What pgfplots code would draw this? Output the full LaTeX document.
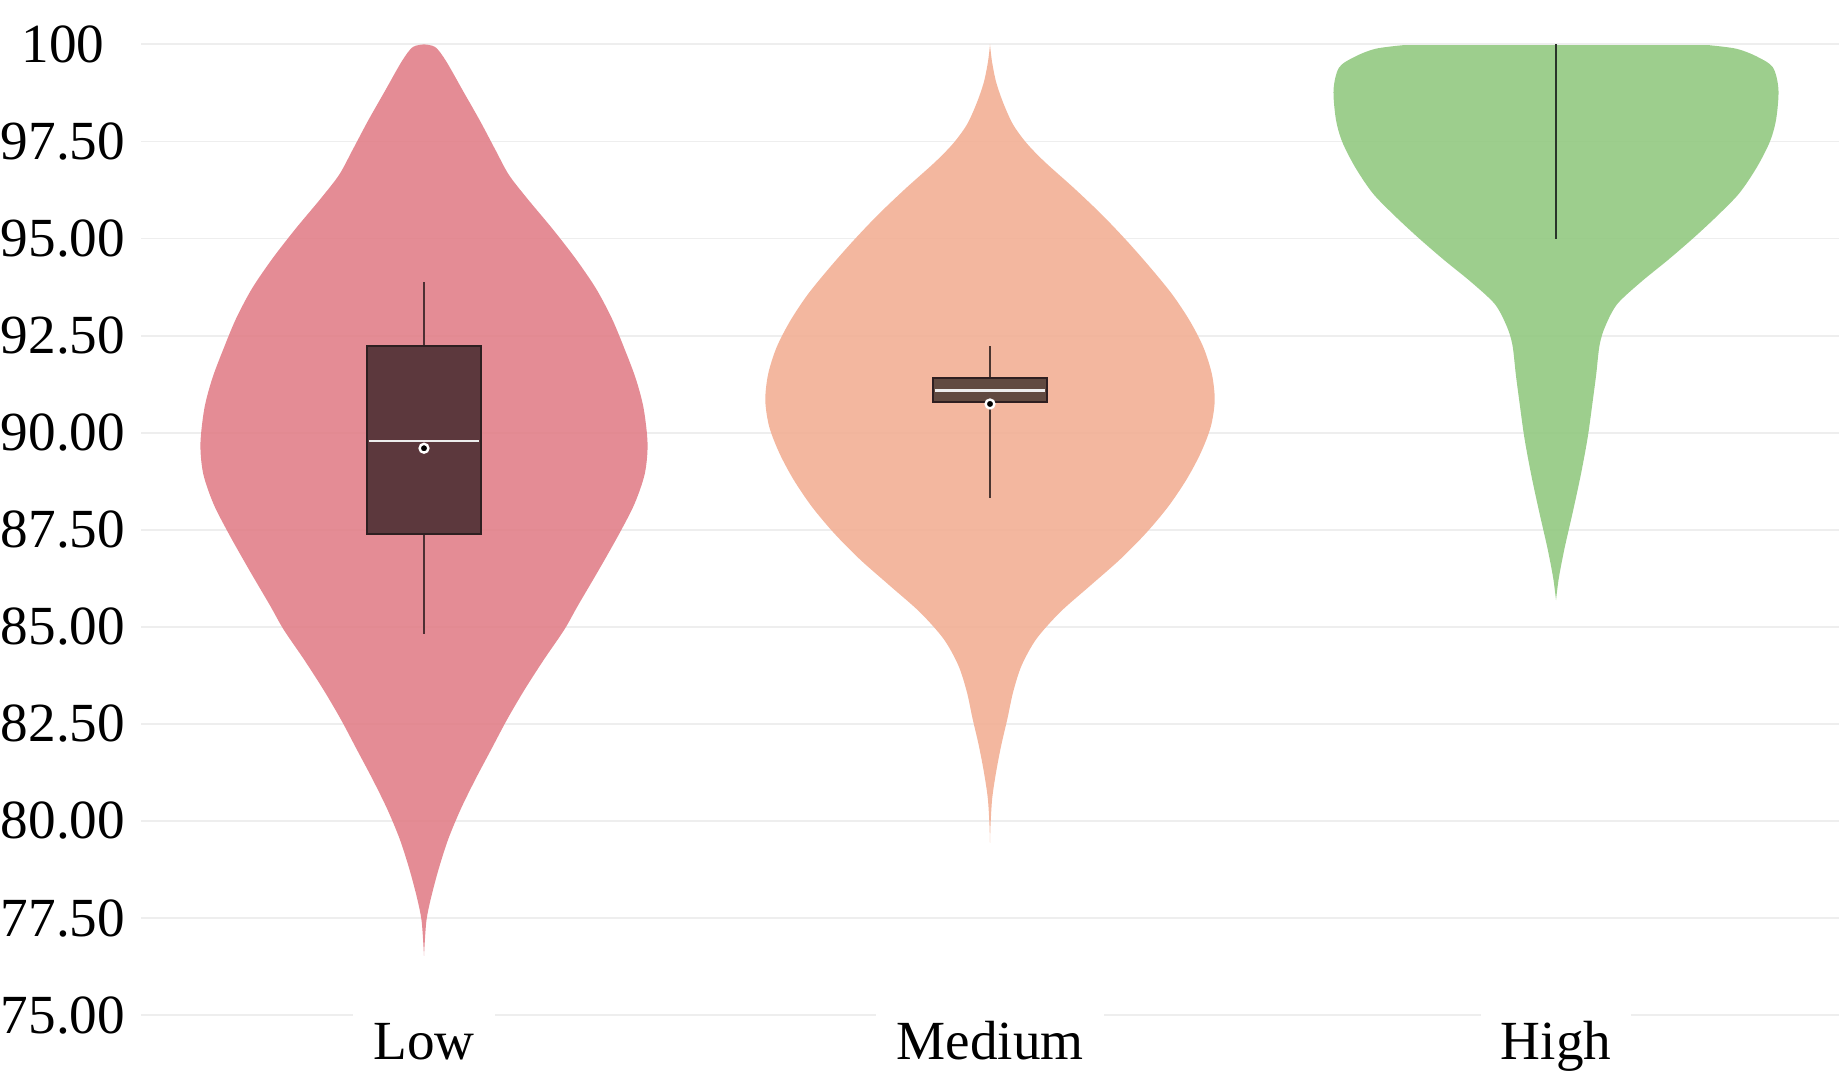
\documentclass[border=0pt]{standalone}
\usepackage{fontspec}
\setmainfont{Liberation Serif}
\usepackage{pgfplots}
\usepackage{pgfplotstable}
\usepgfplotslibrary{fillbetween}
\pgfplotsset{compat=1.18}

\definecolor{gridgray}{HTML}{EEEEEE}
\definecolor{lowfill}{HTML}{E18089}
\definecolor{midfill}{HTML}{F2AF95}
\definecolor{highfill}{HTML}{92C981}
\definecolor{lowbox}{HTML}{5C383D}
\definecolor{midbox}{HTML}{614A40}
\definecolor{boxedge}{HTML}{2E1F21}
\definecolor{lowwhisk}{HTML}{4D2F33}
\definecolor{midwhisk}{HTML}{4A3530}
\definecolor{highwhisk}{HTML}{2A352A}
\definecolor{medline}{HTML}{EDEDED}

% violin outlines: y value, half width (axis units)
\pgfplotstableread{
y w
100.00 0.000
99.93 0.020
99.57 0.039
98.80 0.069
98.03 0.099
97.26 0.127
96.64 0.150
96.02 0.183
95.25 0.227
94.48 0.268
93.71 0.304
92.94 0.332
92.17 0.354
91.40 0.374
90.63 0.388
89.71 0.395
88.94 0.390
88.17 0.372
87.40 0.345
86.47 0.309
85.55 0.272
84.93 0.248
84.16 0.212
83.39 0.178
82.62 0.147
81.85 0.119
81.08 0.091
80.31 0.065
79.54 0.043
78.77 0.026
78.00 0.012
77.40 0.004
76.53 0.000
}\lowviolin

\pgfplotstableread{
y w
100.00 0.000
99.56 0.0035
99.02 0.011
98.47 0.024
97.93 0.041
97.45 0.065
96.97 0.097
96.29 0.149
95.61 0.198
94.92 0.243
94.24 0.284
93.56 0.322
92.88 0.353
92.20 0.377
91.51 0.392
90.83 0.397
90.15 0.390
89.47 0.372
88.79 0.347
88.10 0.315
87.42 0.276
86.74 0.230
86.06 0.177
85.38 0.124
84.69 0.082
84.01 0.056
83.33 0.041
82.65 0.031
81.96 0.020
81.28 0.011
80.60 0.004
79.92 0.001
79.44 0.000
}\midviolin

\pgfplotstableread{
y w
99.98 0.270
99.89 0.318
99.70 0.353
99.41 0.383
98.84 0.393
98.08 0.389
97.50 0.378
96.84 0.355
96.17 0.324
95.60 0.286
95.03 0.244
94.45 0.198
93.88 0.150
93.31 0.108
92.74 0.087
92.26 0.077
91.50 0.071
90.83 0.065
89.88 0.056
88.93 0.044
87.98 0.030
87.02 0.015
86.26 0.005
85.69 0.000
}\highviolin

\begin{document}
\begin{tikzpicture}
\begin{axis}[name=ax, set layers, scale only axis, width=424.5pt, height=242.7pt,
  xmin=-0.5, xmax=2.5, ymin=75, ymax=100,
  xtick={0,1,2}, xticklabels={Low,Medium,High},
  ytick={75,77.5,80,82.5,85,87.5,90,92.5,95,97.5,100},
  yticklabels={75.00,77.50,80.00,82.50,85.00,87.50,90.00,92.50,95.00,97.50,100},
  ymajorgrids, major grid style={draw=gridgray, line width=0.45pt},
  axis line style={draw=none}, major tick length=0pt,
  tick label style={font=\fontsize{13.8}{16}\selectfont},
  yticklabel style={anchor=center, xshift=-19.5pt},
  xticklabel style={anchor=base, yshift=-11pt, fill=white, inner xsep=5pt},
  clip=false]

% Low
\addplot[draw=none, smooth, name path=lowL] table[x expr={0-\thisrow{w}}, y=y] {\lowviolin};
\addplot[draw=none, smooth, name path=lowR] table[x expr={0+\thisrow{w}}, y=y] {\lowviolin};
\addplot[fill=lowfill, fill opacity=0.9, draw=none] fill between[of=lowL and lowR, reverse=true];
% Medium
\addplot[draw=none, smooth, name path=midL] table[x expr={1-\thisrow{w}}, y=y] {\midviolin};
\addplot[draw=none, smooth, name path=midR] table[x expr={1+\thisrow{w}}, y=y] {\midviolin};
\addplot[fill=midfill, fill opacity=0.9, draw=none] fill between[of=midL and midR, reverse=true];
% High
\addplot[draw=none, smooth, name path=highL] table[x expr={2-\thisrow{w}}, y=y] {\highviolin};
\addplot[draw=none, smooth, name path=highR] table[x expr={2+\thisrow{w}}, y=y] {\highviolin};
\addplot[fill=highfill, fill opacity=0.9, draw=none] fill between[of=highL and highR, reverse=true];

% Low box: whiskers 84.82-93.87, quartiles 87.40-92.22, median 89.78
\addplot[draw=lowwhisk, line width=0.5pt, no marks] coordinates {(0,92.22) (0,93.87)};
\addplot[draw=lowwhisk, line width=0.5pt, no marks] coordinates {(0,84.82) (0,87.40)};
\addplot[draw=boxedge, fill=lowbox, line width=0.5pt, no marks]
  coordinates {(-0.1,87.40) (0.1,87.40) (0.1,92.22) (-0.1,92.22)} -- cycle;
\addplot[draw=medline, line width=0.6pt, no marks] coordinates {(-0.098,89.78) (0.098,89.78)};
% Medium box: whiskers 88.33-92.22, quartiles 90.79-91.41, median 91.09
\addplot[draw=midwhisk, line width=0.5pt, no marks] coordinates {(1,91.41) (1,92.22)};
\addplot[draw=midwhisk, line width=0.5pt, no marks] coordinates {(1,88.33) (1,90.79)};
\addplot[draw=boxedge, fill=midbox, line width=0.5pt, no marks]
  coordinates {(0.9,90.79) (1.1,90.79) (1.1,91.41) (0.9,91.41)} -- cycle;
\addplot[draw=medline, line width=0.6pt, no marks] coordinates {(0.902,91.09) (1.098,91.09)};
% High: whisker only
\addplot[draw=highwhisk, line width=0.5pt, no marks] coordinates {(2,95) (2,100)};

% means
\addplot[only marks, mark=*, mark size=1.1pt, mark options={draw=white, fill=black, line width=0.6pt}]
  coordinates {(0,89.60) (1,90.74)};
\end{axis}
\pgfresetboundingbox
\path[use as bounding box] ([xshift=-35.25pt,yshift=-16pt]ax.south west) rectangle ([yshift=11.1pt]ax.north east);
\end{tikzpicture}
\end{document}
